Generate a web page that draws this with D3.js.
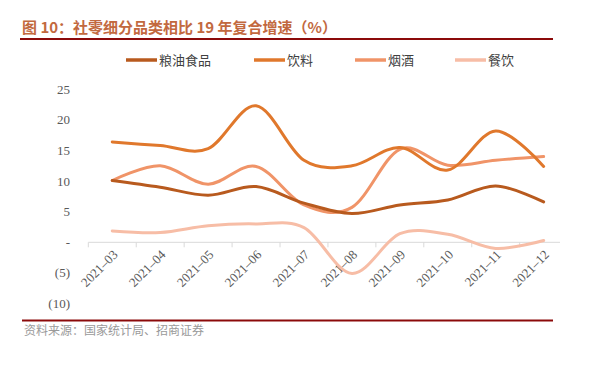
<!DOCTYPE html>
<html><head><meta charset="utf-8">
<script src="https://cdn.jsdelivr.net/npm/d3@7"></script>
<style>body{margin:0;background:#fff}svg{display:block}</style>
</head><body>
<script>
const months = ["2021–03","2021–04","2021–05","2021–06","2021–07","2021–08","2021–09","2021–10","2021–11","2021–12"];
const food     = [10.1, 9.0, 7.7, 9.1, 6.4, 4.7, 6.1, 6.9, 9.2, 6.6];
const beverage = [16.4, 15.8, 15.3, 22.3, 13.4, 12.5, 15.5, 11.8, 18.2, 12.4];
const tobacco  = [10.1, 12.5, 9.5, 12.4, 6.1, 5.7, 15.2, 12.6, 13.4, 14.0];
const catering = [1.85, 1.6, 2.7, 3.0, 2.4, -5.1, 1.4, 1.3, -1.0, 0.3];
const seriesNames = ["粮油食品","饮料","烟酒","餐饮"];
const seriesColors = ["#B85A1E","#E0782C","#F09468","#F7BDA6"];
const yTicks = [25,20,15,10,5,0,-5,-10];
const yTickLabels = ["25","20","15","10","5","-","(5)","(10)"];

const W=595,H=369;
const svg=d3.select("body").append("svg").attr("width",W).attr("height",H);

// title
svg.append("text").attr("x",22).attr("y",33)
  .attr("font-family","'Noto Sans CJK SC','Noto Sans',sans-serif").attr("font-weight","bold")
  .attr("font-size",15).attr("fill","#C2693F")
  .text("图 10：社零细分品类相比 19 年复合增速（%）");
svg.append("line").attr("x1",20).attr("x2",553).attr("y1",39).attr("y2",39)
  .attr("stroke","#8B0A0A").attr("stroke-width",2.2);

// scales
const x=d3.scaleBand().domain(months).range([88.3,567.6]);
const y=d3.scaleLinear().domain([-10,25]).range([303.5,89.3]);

// y labels
svg.append("g").selectAll("text").data(yTicks).join("text")
  .attr("x",70).attr("y",d=>y(d)).attr("dy","0.35em").attr("text-anchor","end")
  .attr("font-family","'Liberation Serif',serif").attr("font-size",13).attr("fill","#595959")
  .text((d,i)=>yTickLabels[i]);

// x axis
const y0=y(0);
svg.append("line").attr("x1",88.3).attr("x2",560).attr("y1",y0).attr("y2",y0)
  .attr("stroke","#D9D9D9").attr("stroke-width",1);
svg.append("g").selectAll("line").data(months).join("line")
  .attr("x1",d=>x(d)).attr("x2",d=>x(d)).attr("y1",y0).attr("y2",y0+5)
  .attr("stroke","#D9D9D9").attr("stroke-width",1);
svg.append("g").selectAll("text").data(months).join("text")
  .attr("transform",d=>`translate(${x(d)+x.bandwidth()/2+3},${y0+10}) rotate(-45)`)
  .attr("text-anchor","end").attr("dy","0.35em")
  .attr("font-family","'Liberation Serif',serif").attr("font-size",13).attr("fill","#595959")
  .text(d=>d);

// lines
const allSeries=[food,beverage,tobacco,catering];
const line=d3.line().x((d,i)=>x(months[i])+x.bandwidth()/2).y(d=>y(d)).curve(d3.curveCardinal.tension(0));
[3,2,0,1].forEach(k=>{
  svg.append("path").attr("d",line(allSeries[k])).attr("fill","none")
    .attr("stroke",seriesColors[k]).attr("stroke-width",3).attr("stroke-linecap","round");
});

// legend
const legX=[126,254,355,455];
seriesNames.forEach((n,i)=>{
  svg.append("line").attr("x1",legX[i]).attr("x2",legX[i]+31).attr("y1",60).attr("y2",60)
    .attr("stroke",seriesColors[i]).attr("stroke-width",3.5);
  svg.append("text").attr("x",legX[i]+33).attr("y",60).attr("dy","0.36em")
    .attr("font-family","'Noto Sans CJK SC',sans-serif").attr("font-size",13).attr("fill","#404040")
    .text(n);
});

// footer
svg.append("line").attr("x1",22).attr("x2",553).attr("y1",320.5).attr("y2",320.5)
  .attr("stroke","#8B0A0A").attr("stroke-width",1.8);
svg.append("text").attr("x",24).attr("y",331).attr("dy","0.35em")
  .attr("font-family","'Noto Sans CJK SC',sans-serif").attr("font-size",12).attr("fill","#9A9A9A")
  .text("资料来源：国家统计局、招商证券");
</script>
</body></html>
